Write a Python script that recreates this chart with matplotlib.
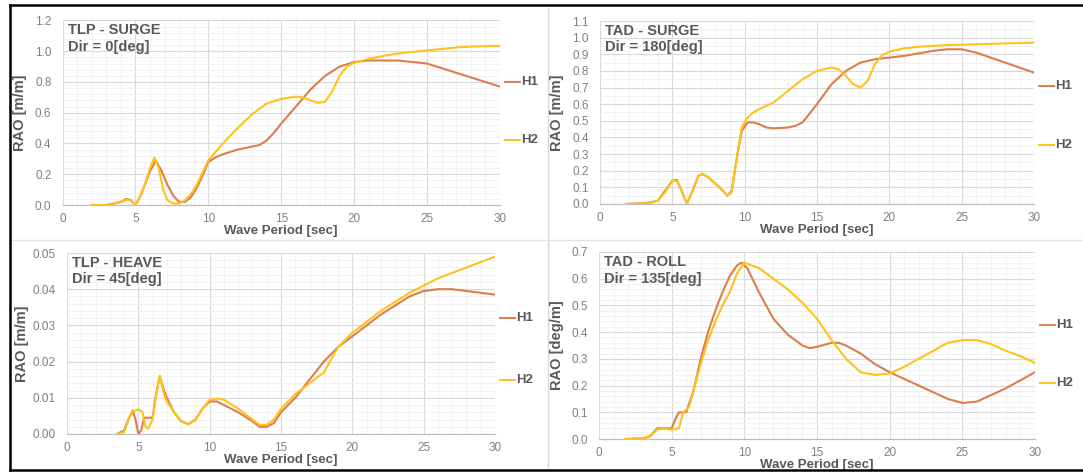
import matplotlib
matplotlib.use("Agg")
import matplotlib.pyplot as plt
from matplotlib.ticker import MultipleLocator, FormatStrFormatter
from matplotlib.lines import Line2D

plt.rcParams['font.family'] = ['Liberation Sans', 'DejaVu Sans']

# ---------------- data ----------------
x_ticks = [0, 5, 10, 15, 20, 25, 30]
series_names = ["H1", "H2"]

# TLP - SURGE
tl_h1_x = [2, 3, 3.5, 4, 4.4, 4.7, 5, 5.3, 5.6, 6, 6.4, 6.8, 7.2, 7.6, 8, 8.4, 8.8, 9.2, 9.6, 10, 10.5, 11, 12, 13,
           13.5, 14, 14.5, 15, 16, 17, 18, 19, 20, 21, 22, 23, 24, 25, 26, 27, 28, 29, 30]
tl_h1_y = [0, 0, 0.01, 0.02, 0.04, 0.03, 0.0, 0.05, 0.12, 0.22, 0.29, 0.22, 0.13, 0.06, 0.02, 0.02, 0.05, 0.11, 0.19,
           0.28, 0.31, 0.33, 0.36, 0.38, 0.39, 0.42, 0.47, 0.53, 0.64, 0.75, 0.84, 0.90, 0.93, 0.94, 0.94, 0.94, 0.93,
           0.92, 0.89, 0.86, 0.83, 0.80, 0.77]
tl_h2_x = [2, 3, 3.5, 4, 4.5, 4.8, 5, 5.3, 5.6, 6, 6.3, 6.6, 6.9, 7.2, 7.6, 8, 8.4, 8.8, 9.2, 9.6, 10, 11, 12, 13, 14,
           15, 16, 16.5, 17, 17.5, 18, 18.5, 19, 19.5, 20, 21, 22, 23, 24, 25, 26, 27, 28, 29, 30]
tl_h2_y = [0, 0, 0.01, 0.02, 0.035, 0.02, 0.0, 0.05, 0.12, 0.24, 0.31, 0.24, 0.10, 0.03, 0.01, 0.01, 0.03, 0.07, 0.13,
           0.21, 0.29, 0.40, 0.50, 0.59, 0.66, 0.69, 0.705, 0.70, 0.68, 0.665, 0.67, 0.74, 0.84, 0.90, 0.925, 0.95,
           0.97, 0.985, 0.995, 1.005, 1.015, 1.025, 1.03, 1.033, 1.035]

# TAD - SURGE
tr_h1_x = [1.8, 3, 3.5, 4, 4.5, 5, 5.3, 5.6, 6, 6.4, 6.8, 7.1, 7.5, 8, 8.5, 8.8, 9.1, 9.5, 9.8, 10.2, 10.6, 11, 11.5,
           12, 13, 13.5, 14, 15, 16, 17, 18, 19, 20, 21, 22, 23, 24, 25, 26, 27, 28, 29, 30]
tr_h1_y = [0, 0.005, 0.01, 0.02, 0.08, 0.14, 0.145, 0.09, 0.0, 0.08, 0.17, 0.18, 0.16, 0.12, 0.08, 0.05, 0.08, 0.3,
           0.44, 0.49, 0.49, 0.48, 0.46, 0.455, 0.46, 0.47, 0.49, 0.6, 0.72, 0.8, 0.85, 0.87, 0.88, 0.89, 0.905, 0.92,
           0.93, 0.93, 0.91, 0.88, 0.85, 0.82, 0.79]
tr_h2_x = [1.8, 3, 3.5, 4, 4.5, 5, 5.3, 5.6, 6, 6.4, 6.8, 7.1, 7.5, 8, 8.5, 8.8, 9.1, 9.5, 9.8, 10.2, 10.6, 11, 12, 13,
           14, 15, 16, 16.5, 17, 17.5, 18, 18.5, 19, 19.5, 20, 21, 22, 24, 26, 28, 30]
tr_h2_y = [0, 0.003, 0.008, 0.02, 0.07, 0.14, 0.14, 0.09, 0.0, 0.08, 0.17, 0.18, 0.16, 0.12, 0.08, 0.05, 0.07, 0.3,
           0.46, 0.52, 0.55, 0.57, 0.61, 0.68, 0.75, 0.80, 0.82, 0.81, 0.77, 0.72, 0.70, 0.74, 0.84, 0.895, 0.915,
           0.935, 0.945, 0.955, 0.96, 0.965, 0.97]

# TLP - HEAVE
bl_h1_x = [3.5, 4, 4.3, 4.6, 4.8, 5, 5.2, 5.4, 5.8, 6, 6.2, 6.5, 6.8, 7, 7.5, 8, 8.5, 9, 9.5, 10, 10.5, 11, 12, 13,
           13.5, 14, 14.5, 15, 16, 17, 18, 19, 20, 22, 24, 25, 26, 27, 28, 30]
bl_h1_y = [0, 0.001, 0.004, 0.0065, 0.004, 0.0, 0.001, 0.0045, 0.0045, 0.0045, 0.01, 0.016, 0.012, 0.01, 0.006,
           0.0035, 0.0027, 0.004, 0.007, 0.009, 0.009, 0.008, 0.006, 0.0035, 0.002, 0.002, 0.003, 0.006, 0.01, 0.015,
           0.02, 0.024, 0.027, 0.033, 0.038, 0.0395, 0.040, 0.040, 0.0395, 0.0385]
bl_h2_x = [3.5, 4, 4.5, 5, 5.3, 5.5, 5.7, 6, 6.3, 6.5, 6.8, 7, 7.5, 8, 8.5, 9, 9.5, 10, 10.5, 11, 12, 13, 13.5, 14,
           14.5, 15, 16, 17, 18, 19, 20, 22, 24, 26, 28, 30]
bl_h2_y = [0, 0.0005, 0.006, 0.0068, 0.006, 0.002, 0.0015, 0.004, 0.012, 0.016, 0.011, 0.009, 0.006, 0.0035, 0.0027,
           0.0038, 0.007, 0.0095, 0.0098, 0.0095, 0.007, 0.004, 0.0025, 0.0025, 0.004, 0.007, 0.011, 0.014, 0.017,
           0.024, 0.028, 0.034, 0.039, 0.043, 0.046, 0.049]

# TAD - ROLL
br_h1_x = [1.8, 3, 3.5, 4, 4.5, 5, 5.3, 5.5, 6, 6.5, 7, 7.5, 8, 8.5, 9, 9.5, 9.8, 10.2, 11, 12, 13, 14, 14.5, 15, 16,
           16.5, 17, 18, 19, 20, 22, 24, 25, 26, 28, 30]
br_h1_y = [0, 0.002, 0.01, 0.04, 0.04, 0.04, 0.08, 0.1, 0.1, 0.18, 0.3, 0.4, 0.48, 0.55, 0.61, 0.65, 0.66, 0.64,
           0.55, 0.45, 0.39, 0.35, 0.34, 0.345, 0.36, 0.36, 0.35, 0.32, 0.28, 0.25, 0.2, 0.15, 0.135, 0.14, 0.19,
           0.25]
br_h2_x = [1.8, 3, 3.5, 4, 4.5, 5, 5.5, 5.8, 6.2, 7, 7.5, 8, 8.5, 9, 9.5, 10, 11, 12, 13, 14, 15, 16, 17, 18, 19,
           20, 21, 22, 23, 24, 25, 26, 27, 28, 29, 30]
br_h2_y = [0, 0.003, 0.01, 0.035, 0.04, 0.035, 0.04, 0.1, 0.12, 0.28, 0.37, 0.44, 0.5, 0.55, 0.62, 0.66, 0.64,
           0.6, 0.56, 0.51, 0.45, 0.37, 0.3, 0.25, 0.24, 0.245, 0.27, 0.3, 0.33, 0.36, 0.37, 0.37, 0.355, 0.33,
           0.31, 0.285]

titles = ["TLP - SURGE\nDir = 0[deg]", "TAD - SURGE\nDir = 180[deg]",
          "TLP - HEAVE\nDir = 45[deg]", "TAD - ROLL\nDir = 135[deg]"]
ylabels = ["RAO [m/m]", "RAO [m/m]", "RAO [m/m]", "RAO [deg/m]"]
xlabel = "Wave Period [sec]"

# ---------------- style ----------------
C1 = "#DD7D4B"
C2 = "#FFC21A"
TXT = "#595959"
TICK = "#808080"
W, H = 1083, 473

fig = plt.figure(figsize=(W / 100, H / 100), dpi=100)
fig.patch.set_facecolor("white")


def add_ax(x0, x1, ytop, ybot):
    return fig.add_axes([x0 / W, 1 - ybot / H, (x1 - x0) / W, (ybot - ytop) / H])


panels = [
    dict(box=(62.5, 500, 20.5, 205), data=(tl_h1_x, tl_h1_y, tl_h2_x, tl_h2_y), ylim=1.2, major=0.2, minor=0.04,
         fmt="%.1f", leg=(82, 140), ylx=20),
    dict(box=(600, 1034, 21, 204), data=(tr_h1_x, tr_h1_y, tr_h2_x, tr_h2_y), ylim=1.1, major=0.1, minor=0.05,
         fmt="%.1f", leg=(86, 145), ylx=557),
    dict(box=(67, 495, 253, 434), data=(bl_h1_x, bl_h1_y, bl_h2_x, bl_h2_y), ylim=0.05, major=0.01, minor=0.002,
         fmt="%.2f", leg=(318, 380), ylx=22),
    dict(box=(599, 1035, 252, 439), data=(br_h1_x, br_h1_y, br_h2_x, br_h2_y), ylim=0.7, major=0.1, minor=0.02,
         fmt="%.1f", leg=(325, 383), ylx=557),
]

for i, p in enumerate(panels):
    x0, x1, yt, yb = p["box"]
    ax = add_ax(x0, x1, yt, yb)
    h1x, h1y, h2x, h2y = p["data"]
    ax.plot(h1x, h1y, color=C1, lw=1.5, zorder=3, solid_joinstyle="round")
    ax.plot(h2x, h2y, color=C2, lw=1.5, zorder=4, solid_joinstyle="round")
    ax.set_xlim(0, 30)
    ax.set_ylim(0, p["ylim"])
    ax.set_xticks(x_ticks)
    ax.xaxis.set_minor_locator(MultipleLocator(1))
    ax.yaxis.set_major_locator(MultipleLocator(p["major"]))
    ax.yaxis.set_minor_locator(MultipleLocator(p["minor"]))
    ax.yaxis.set_major_formatter(FormatStrFormatter(p["fmt"]))
    ax.grid(which="major", color="#D9D9D9", lw=0.8, zorder=0)
    ax.grid(which="minor", color="#F0F0F0", lw=0.6, zorder=0)
    ax.set_axisbelow(True)
    for s in ["top", "right", "left"]:
        ax.spines[s].set_visible(False)
    ax.spines["bottom"].set_color("#BFBFBF")
    ax.spines["bottom"].set_linewidth(0.9)
    ax.tick_params(which="both", length=0, labelsize=8.5, labelcolor=TICK)
    ax.tick_params(axis="y", pad=8)
    ax.tick_params(axis="x", pad=6)
    ax.set_xlabel(xlabel, fontsize=9.5, fontweight="bold", color=TXT, labelpad=0)
    ax.text(0.012, 0.985, titles[i], transform=ax.transAxes, ha="left", va="top", fontsize=10.5,
            fontweight="bold", color=TXT, linespacing=1.25)
    # y label at fixed figure x
    fig.text(p["ylx"] / W, 1 - ((yt + yb) / 2) / H, ylabels[i], rotation=90, ha="center", va="center",
             fontsize=10.5, fontweight="bold", color=TXT)
    # legend entries
    for name, col, ly in zip(series_names, [C1, C2], p["leg"]):
        fy = 1 - ly / H
        fig.add_artist(Line2D([(x1 + 5) / W, (x1 + 20) / W], [fy, fy], color=col, lw=1.4))
        fig.text((x1 + 21) / W, fy, name, ha="left", va="center", fontsize=9.5, fontweight="bold", color=TXT)

# panel separators
fig.add_artist(Line2D([548 / W, 548 / W], [1 - 8 / H, 1 - 467 / H], color="#D9D9D9", lw=1.0))
fig.add_artist(Line2D([12 / W, 1], [1 - 240 / H, 1 - 240 / H], color="#E3E3E3", lw=1.0))

# outer black frame (top, left, bottom)
fig.add_artist(Line2D([10 / W, 1], [1 - 5 / H, 1 - 5 / H], color="black", lw=1.8))
fig.add_artist(Line2D([10 / W, 10 / W], [1 - 5 / H, 1 - 470 / H], color="black", lw=1.8))
fig.add_artist(Line2D([10 / W, 1], [1 - 470 / H, 1 - 470 / H], color="black", lw=1.8))

fig.savefig("out.png", dpi=100, facecolor="white")
